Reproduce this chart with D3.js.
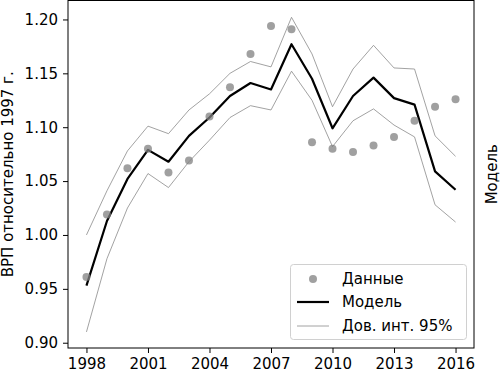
<!DOCTYPE html>
<html>
<head>
<meta charset="utf-8">
<script src="https://cdn.jsdelivr.net/npm/d3@7"></script>
<style>
  body { margin: 0; background: #fff; }
  svg { display: block; font-family: "DejaVu Sans", sans-serif; }
</style>
</head>
<body>
<svg id="chart" width="501" height="372"></svg>
<script>
// years and series
let years = d3.range(1998, 2017);
let dataValues = [0.961, 1.019, 1.062, 1.080, 1.058, 1.069, 1.110, 1.137, 1.168, 1.194,
                  1.191, 1.086, 1.080, 1.077, 1.083, 1.091, 1.106, 1.119, 1.126];
let modelValues = [0.953, 1.013, 1.052, 1.079, 1.068, 1.092, 1.109, 1.129, 1.141, 1.135,
                   1.177, 1.145, 1.099, 1.129, 1.146, 1.127, 1.121, 1.059, 1.042];
let upperValues = [1.000, 1.041, 1.078, 1.101, 1.094, 1.116, 1.131, 1.150, 1.161, 1.156,
                   1.202, 1.168, 1.119, 1.154, 1.176, 1.155, 1.154, 1.092, 1.073];
let lowerValues = [0.910, 0.978, 1.025, 1.057, 1.044, 1.068, 1.088, 1.109, 1.120, 1.116,
                   1.152, 1.125, 1.082, 1.106, 1.117, 1.102, 1.091, 1.028, 1.012];
let xTicks = [1998, 2001, 2004, 2007, 2010, 2013, 2016];
let yTicks = [0.90, 0.95, 1.00, 1.05, 1.10, 1.15, 1.20];
let legendLabels = ["Данные", "Модель", "Дов. инт. 95%"];

let svg = d3.select("#chart");
let pl = 68, pr = 474, pt = 0.5, pb = 348;
let fontSize = 15;

let x = d3.scaleLinear().domain([1997.1, 2016.9]).range([pl, pr]);
let y = d3.scaleLinear().domain([0.8951, 1.2176]).range([pb, pt]);

let line = (vals) => d3.line()
    .x((d, i) => x(years[i]))
    .y((d) => y(d))(vals);

// confidence band lines
let ciColor = "#8a8a8a";
[upperValues, lowerValues].forEach((vals) => {
    svg.append("path")
        .attr("d", line(vals))
        .style("fill", "none")
        .style("stroke", ciColor)
        .style("stroke-width", 0.8);
});

// model
svg.append("path")
    .attr("d", line(modelValues))
    .style("fill", "none")
    .style("stroke", "#000")
    .style("stroke-width", 2.2)
    .style("stroke-linejoin", "round");

// data points
svg.append("g").selectAll("circle")
    .data(dataValues)
    .enter()
    .append("circle")
    .attr("cx", (d, i) => x(years[i]))
    .attr("cy", (d) => y(d))
    .attr("r", 4)
    .style("fill", "#808080")
    .style("fill-opacity", 0.75);

// axes
let xAxis = svg.append("g")
    .attr("transform", "translate(0," + pb + ")")
    .call(d3.axisBottom(x).tickValues(xTicks).tickFormat(d3.format("d"))
        .tickSize(5).tickSizeOuter(0).tickPadding(5));
let yAxis = svg.append("g")
    .attr("transform", "translate(" + pl + ",0)")
    .call(d3.axisLeft(y).tickValues(yTicks).tickFormat(d3.format(".2f"))
        .tickSize(5).tickSizeOuter(0).tickPadding(5));
[xAxis, yAxis].forEach((a) => {
    a.select(".domain").remove();
    a.selectAll("text").style("font-size", fontSize + "px").style("fill", "#000")
        .style("font-family", "DejaVu Sans");
    a.selectAll("line").style("stroke", "#000").style("stroke-width", 1);
});

// frame
svg.append("rect")
    .attr("x", pl).attr("y", pt)
    .attr("width", pr - pl).attr("height", pb - pt)
    .style("fill", "none")
    .style("stroke", "#000")
    .style("stroke-width", 1);

// axis labels
svg.append("text")
    .attr("transform", "translate(13," + ((pt + pb) / 2) + ") rotate(-90)")
    .attr("text-anchor", "middle")
    .style("font-size", fontSize + "px")
    .text("ВРП относительно 1997 г.");
svg.append("text")
    .attr("transform", "translate(497," + ((pt + pb) / 2) + ") rotate(-90)")
    .attr("text-anchor", "middle")
    .style("font-size", fontSize + "px")
    .text("Модель");

// legend
let lx = 290, ly = 264;
let legend = svg.append("g").attr("transform", "translate(" + lx + "," + ly + ")");
legend.append("rect")
    .attr("x", 0.5).attr("y", 0.5)
    .attr("width", 176).attr("height", 75)
    .attr("rx", 3)
    .style("fill", "#fff")
    .style("fill-opacity", 0.8)
    .style("stroke", "#d0d0d0");
let rowY = [15, 38, 62];
legend.append("circle")
    .attr("cx", 23).attr("cy", rowY[0])
    .attr("r", 4)
    .style("fill", "#808080").style("fill-opacity", 0.75);
legend.append("line")
    .attr("x1", 7).attr("x2", 39).attr("y1", rowY[1]).attr("y2", rowY[1])
    .style("stroke", "#000").style("stroke-width", 2.2);
legend.append("line")
    .attr("x1", 7).attr("x2", 39).attr("y1", rowY[2]).attr("y2", rowY[2])
    .style("stroke", ciColor).style("stroke-width", 0.8);
legend.selectAll("text.lbl")
    .data(legendLabels)
    .enter()
    .append("text")
    .attr("class", "lbl")
    .attr("x", 52)
    .attr("y", (d, i) => rowY[i])
    .attr("dy", "0.36em")
    .style("font-size", fontSize + "px")
    .text((d) => d);
</script>
</body>
</html>
